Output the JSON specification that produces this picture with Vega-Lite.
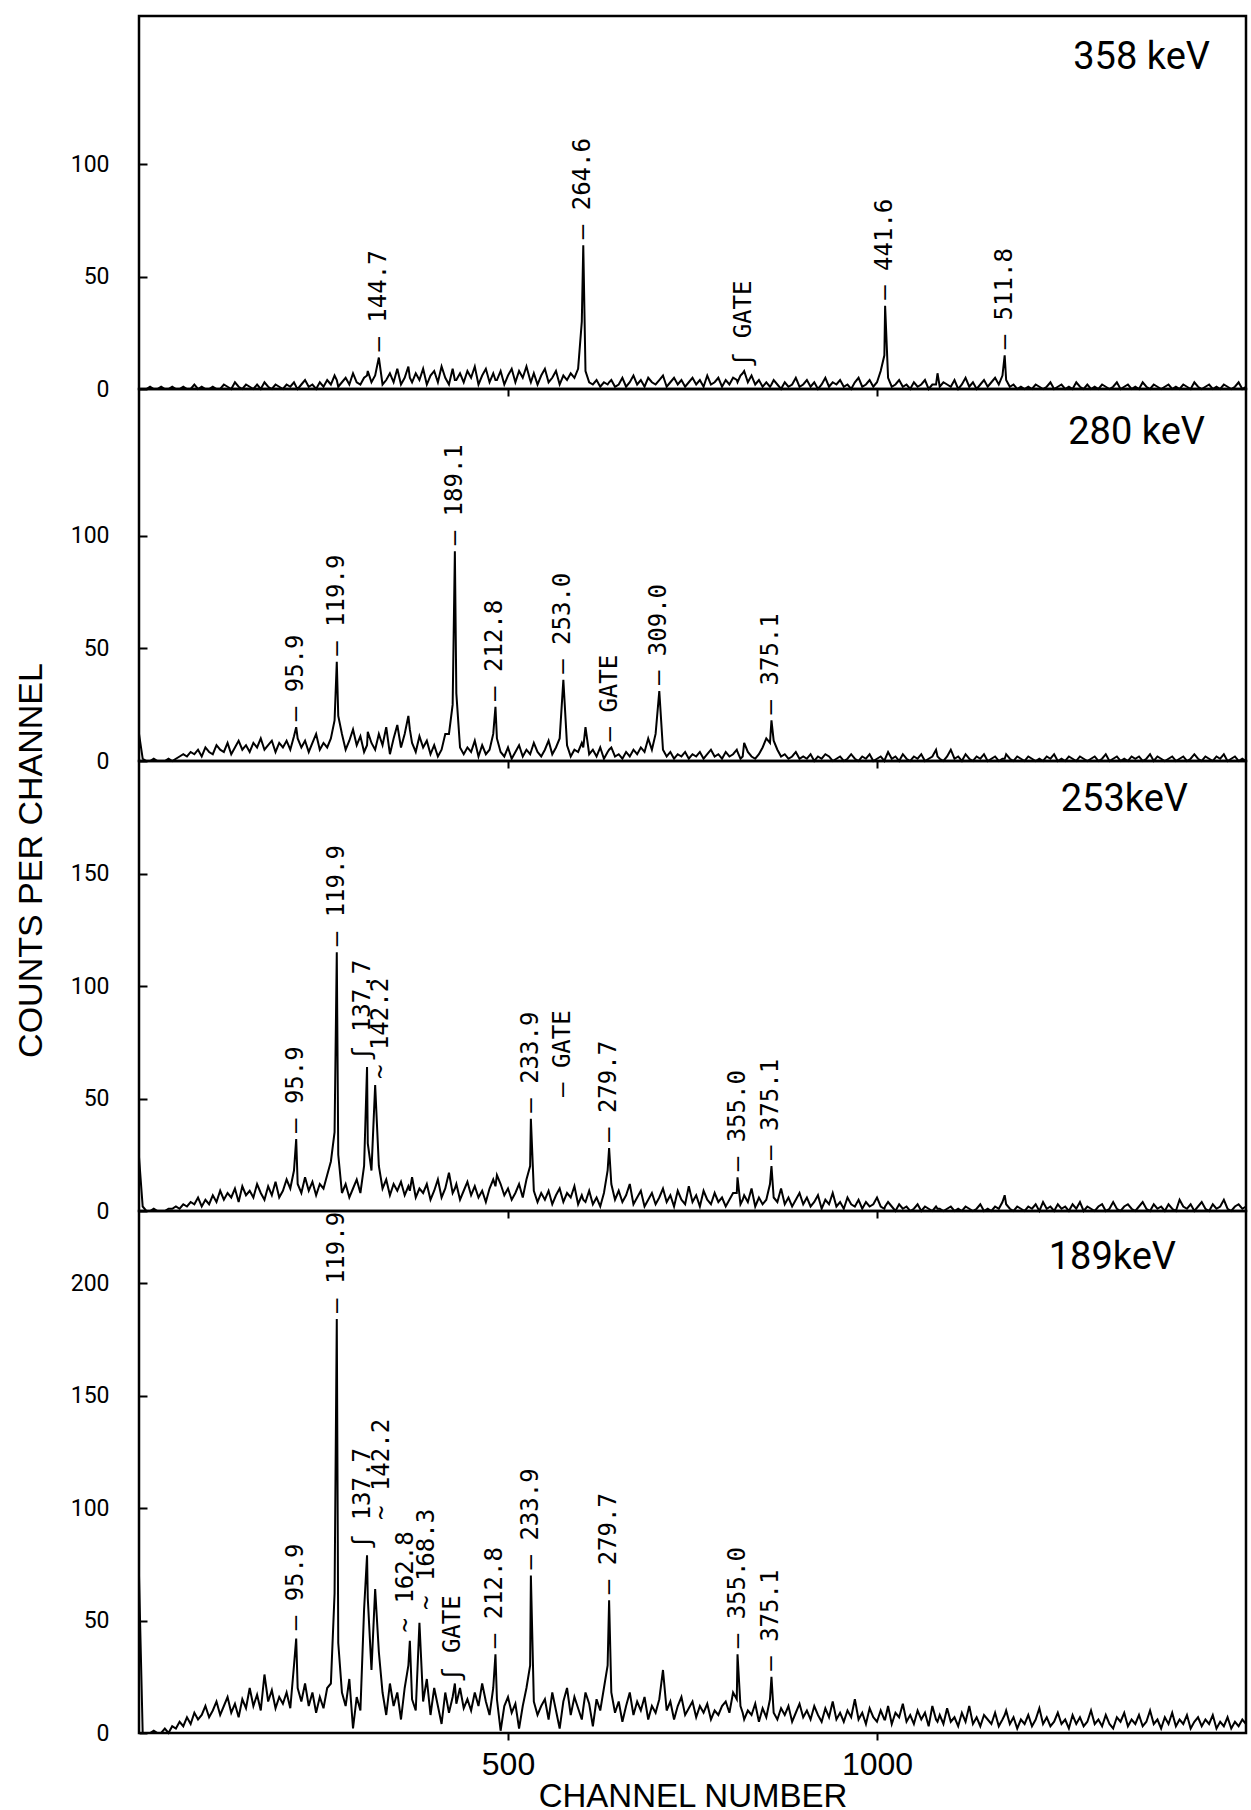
{
"$schema": "https://vega.github.io/schema/vega-lite/v6.json",
"background": "white",
"padding": {"left": 12, "top": 14, "right": 0, "bottom": 0},
"bounds": "flush",
"spacing": 0,
"config": {"view": {"stroke": "black", "strokeWidth": 2.5}, "axis": {"grid": false, "domain": false, "tickColor": "black", "tickWidth": 2, "labelColor": "black", "titleColor": "black"}},
"datasets": {
"spec": [
{"c":0,"a":0,"b":12,"d":24,"e":70},{"c":5,"a":0,"b":1,"d":2,"e":0},{"c":10,"a":0,"b":0,"d":0,"e":0},{"c":15,"a":1,"b":0,"d":0,"e":0},{"c":20,"a":0,"b":1,"d":1,"e":1},{"c":25,"a":0,"b":0,"d":0,"e":0},{"c":30,"a":1,"b":0,"d":0,"e":0},{"c":35,"a":0,"b":0,"d":0,"e":2},{"c":40,"a":0,"b":1,"d":1,"e":0},{"c":45,"a":1,"b":0,"d":1,"e":3},
{"c":50,"a":0,"b":1,"d":2,"e":2},{"c":55,"a":0,"b":2,"d":1,"e":5},{"c":60,"a":1,"b":3,"d":3,"e":3},{"c":65,"a":0,"b":2,"d":2,"e":7},{"c":70,"a":0,"b":4,"d":4,"e":4},{"c":75,"a":2,"b":3,"d":3,"e":9},{"c":80,"a":0,"b":5,"d":6,"e":6},{"c":85,"a":1,"b":2,"d":2,"e":8},{"c":90,"a":0,"b":6,"d":5,"e":12},{"c":95,"a":0,"b":4,"d":3,"e":7},
{"c":100,"a":1,"b":3,"d":7,"e":10},{"c":105,"a":0,"b":7,"d":4,"e":14},{"c":110,"a":0,"b":5,"d":9,"e":8},{"c":115,"a":2,"b":4,"d":5,"e":12},{"c":120,"a":1,"b":8,"d":8,"e":16},{"c":125,"a":0,"b":3,"d":6,"e":9},{"c":130,"a":3,"b":6,"d":10,"e":13},{"c":135,"a":1,"b":9,"d":4,"e":7},{"c":140,"a":0,"b":5,"d":11,"e":15},{"c":145,"a":2,"b":7,"d":7,"e":11},
{"c":150,"a":1,"b":4,"d":9,"e":20},{"c":155,"a":0,"b":8,"d":6,"e":12},{"c":160,"a":2,"b":6,"d":12,"e":17},{"c":165,"a":0,"b":10,"d":8,"e":10},{"c":170,"a":3,"b":5,"d":5,"e":26},{"c":175,"a":1,"b":7,"d":11,"e":14},{"c":180,"a":0,"b":9,"d":7,"e":19},{"c":185,"a":2,"b":4,"d":13,"e":11},{"c":190,"a":1,"b":8,"d":6,"e":16},{"c":195,"a":0,"b":6,"d":9,"e":13},
{"c":200,"a":2,"b":9,"d":14,"e":18},{"c":205,"a":1,"b":5,"d":10,"e":11},{"c":210,"a":3,"b":11,"d":18,"e":30},{"c":213,"a":1,"b":15,"d":32,"e":42},{"c":215,"a":0,"b":10,"d":12,"e":20},{"c":220,"a":2,"b":6,"d":8,"e":14},{"c":225,"a":4,"b":9,"d":15,"e":22},{"c":230,"a":1,"b":4,"d":9,"e":12},{"c":235,"a":2,"b":8,"d":13,"e":18},{"c":240,"a":0,"b":12,"d":7,"e":9},{"c":245,"a":3,"b":5,"d":12,"e":16},
{"c":250,"a":1,"b":8,"d":10,"e":11},{"c":255,"a":4,"b":6,"d":16,"e":20},{"c":260,"a":2,"b":10,"d":22,"e":22},{"c":265,"a":6,"b":18,"d":35,"e":62},{"c":268,"a":4,"b":44,"d":115,"e":184},{"c":270,"a":1,"b":20,"d":25,"e":40},{"c":275,"a":3,"b":12,"d":8,"e":18},{"c":280,"a":5,"b":5,"d":12,"e":12},{"c":285,"a":2,"b":9,"d":6,"e":24},{"c":290,"a":7,"b":14,"d":10,"e":2},{"c":295,"a":3,"b":7,"d":14,"e":16},
{"c":300,"a":2,"b":11,"d":8,"e":10},{"c":305,"a":5,"b":4,"d":20,"e":55},{"c":309,"a":6,"b":7,"d":64,"e":79},{"c":310,"a":8,"b":13,"d":30,"e":60},{"c":315,"a":3,"b":8,"d":18,"e":28},{"c":320,"a":6,"b":5,"d":56,"e":64},{"c":325,"a":14,"b":12,"d":20,"e":36},{"c":330,"a":2,"b":7,"d":10,"e":18},{"c":335,"a":4,"b":15,"d":14,"e":8},{"c":340,"a":7,"b":3,"d":7,"e":22},{"c":345,"a":3,"b":10,"d":12,"e":12},
{"c":350,"a":9,"b":16,"d":9,"e":18},{"c":355,"a":2,"b":6,"d":13,"e":6},{"c":360,"a":5,"b":12,"d":7,"e":20},{"c":365,"a":10,"b":20,"d":11,"e":30},{"c":367,"a":5,"b":14,"d":9,"e":41},{"c":370,"a":3,"b":8,"d":15,"e":15},{"c":375,"a":7,"b":4,"d":6,"e":10},{"c":380,"a":4,"b":11,"d":10,"e":49},{"c":385,"a":9,"b":6,"d":8,"e":14},{"c":390,"a":2,"b":9,"d":12,"e":24},{"c":395,"a":6,"b":3,"d":5,"e":8},
{"c":400,"a":8,"b":7,"d":9,"e":20},{"c":405,"a":3,"b":2,"d":14,"e":12},{"c":410,"a":10,"b":5,"d":6,"e":4},{"c":415,"a":5,"b":12,"d":10,"e":18},{"c":420,"a":2,"b":12,"d":17,"e":9},{"c":425,"a":9,"b":25,"d":8,"e":16},{"c":428,"a":4,"b":93,"d":10,"e":22},{"c":430,"a":4,"b":30,"d":12,"e":13},{"c":435,"a":7,"b":6,"d":5,"e":20},{"c":440,"a":3,"b":3,"d":9,"e":11},{"c":445,"a":8,"b":6,"d":13,"e":15},
{"c":450,"a":5,"b":4,"d":7,"e":10},{"c":455,"a":10,"b":9,"d":11,"e":18},{"c":460,"a":2,"b":2,"d":6,"e":12},{"c":465,"a":6,"b":7,"d":9,"e":22},{"c":470,"a":9,"b":3,"d":4,"e":14},{"c":475,"a":3,"b":5,"d":10,"e":8},{"c":480,"a":7,"b":12,"d":14,"e":20},{"c":483,"a":4,"b":24,"d":11,"e":35},{"c":485,"a":4,"b":10,"d":16,"e":15},{"c":490,"a":8,"b":4,"d":12,"e":1},{"c":495,"a":2,"b":2,"d":7,"e":12},
{"c":500,"a":6,"b":6,"d":10,"e":16},{"c":505,"a":9,"b":1,"d":5,"e":9},{"c":510,"a":3,"b":4,"d":8,"e":13},{"c":515,"a":8,"b":7,"d":12,"e":2},{"c":520,"a":5,"b":2,"d":6,"e":12},{"c":525,"a":10,"b":5,"d":14,"e":20},{"c":530,"a":4,"b":3,"d":20,"e":30},{"c":531,"a":3,"b":4,"d":41,"e":70},{"c":535,"a":7,"b":8,"d":9,"e":14},{"c":540,"a":2,"b":4,"d":4,"e":8},{"c":545,"a":6,"b":2,"d":8,"e":12},
{"c":550,"a":9,"b":5,"d":5,"e":15},{"c":555,"a":3,"b":9,"d":9,"e":6},{"c":560,"a":5,"b":3,"d":3,"e":18},{"c":565,"a":8,"b":6,"d":7,"e":10},{"c":570,"a":2,"b":10,"d":10,"e":2},{"c":575,"a":6,"b":36,"d":4,"e":14},{"c":580,"a":4,"b":7,"d":8,"e":20},{"c":585,"a":7,"b":2,"d":6,"e":8},{"c":590,"a":5,"b":5,"d":11,"e":16},{"c":595,"a":9,"b":4,"d":3,"e":11},
{"c":600,"a":30,"b":8,"d":7,"e":6},{"c":602,"a":64,"b":6,"d":5,"e":11},{"c":605,"a":8,"b":15,"d":4,"e":18},{"c":610,"a":3,"b":3,"d":9,"e":13},{"c":615,"a":2,"b":5,"d":3,"e":3},{"c":620,"a":4,"b":2,"d":6,"e":15},{"c":625,"a":1,"b":6,"d":2,"e":10},{"c":630,"a":3,"b":1,"d":8,"e":20},{"c":635,"a":2,"b":4,"d":18,"e":30},{"c":637,"a":3,"b":5,"d":28,"e":59},{"c":640,"a":4,"b":6,"d":12,"e":18},{"c":645,"a":1,"b":2,"d":5,"e":9},
{"c":650,"a":2,"b":3,"d":9,"e":14},{"c":655,"a":5,"b":1,"d":4,"e":5},{"c":660,"a":1,"b":4,"d":7,"e":12},{"c":665,"a":3,"b":2,"d":12,"e":18},{"c":670,"a":6,"b":5,"d":3,"e":8},{"c":675,"a":2,"b":3,"d":6,"e":14},{"c":680,"a":4,"b":6,"d":9,"e":10},{"c":685,"a":1,"b":4,"d":2,"e":16},{"c":690,"a":5,"b":10,"d":5,"e":6},{"c":695,"a":3,"b":5,"d":8,"e":12},
{"c":700,"a":2,"b":12,"d":3,"e":9},{"c":705,"a":4,"b":31,"d":6,"e":15},{"c":710,"a":6,"b":5,"d":10,"e":28},{"c":715,"a":1,"b":2,"d":4,"e":10},{"c":720,"a":3,"b":4,"d":7,"e":14},{"c":725,"a":5,"b":1,"d":2,"e":6},{"c":730,"a":2,"b":3,"d":9,"e":12},{"c":735,"a":4,"b":2,"d":5,"e":16},{"c":740,"a":1,"b":4,"d":3,"e":8},{"c":745,"a":3,"b":1,"d":11,"e":11},
{"c":750,"a":5,"b":3,"d":4,"e":14},{"c":755,"a":2,"b":2,"d":7,"e":7},{"c":760,"a":4,"b":4,"d":2,"e":12},{"c":765,"a":1,"b":1,"d":9,"e":9},{"c":770,"a":6,"b":3,"d":5,"e":13},{"c":775,"a":2,"b":5,"d":3,"e":6},{"c":780,"a":3,"b":2,"d":8,"e":10},{"c":785,"a":5,"b":3,"d":4,"e":8},{"c":790,"a":1,"b":1,"d":6,"e":12},{"c":795,"a":4,"b":4,"d":2,"e":14},
{"c":800,"a":2,"b":2,"d":5,"e":9},{"c":805,"a":5,"b":3,"d":8,"e":18},{"c":810,"a":4,"b":5,"d":8,"e":15},{"c":811,"a":3,"b":4,"d":15,"e":35},{"c":815,"a":6,"b":1,"d":3,"e":12},{"c":818,"a":7,"b":2,"d":5,"e":9},{"c":820,"a":8,"b":8,"d":7,"e":6},{"c":825,"a":3,"b":4,"d":4,"e":10},{"c":830,"a":6,"b":2,"d":10,"e":8},{"c":835,"a":2,"b":1,"d":2,"e":13},{"c":840,"a":4,"b":3,"d":6,"e":5},{"c":845,"a":1,"b":6,"d":3,"e":11},
{"c":850,"a":3,"b":10,"d":5,"e":7},{"c":855,"a":1,"b":8,"d":12,"e":15},{"c":857,"a":2,"b":18,"d":20,"e":25},{"c":860,"a":4,"b":9,"d":6,"e":9},{"c":865,"a":2,"b":5,"d":4,"e":6},{"c":870,"a":0,"b":2,"d":10,"e":11},{"c":875,"a":3,"b":3,"d":3,"e":8},{"c":880,"a":1,"b":1,"d":6,"e":12},{"c":885,"a":2,"b":2,"d":2,"e":5},{"c":890,"a":5,"b":4,"d":5,"e":9},{"c":895,"a":1,"b":1,"d":8,"e":13},
{"c":900,"a":2,"b":2,"d":3,"e":7},{"c":905,"a":4,"b":1,"d":6,"e":10},{"c":910,"a":1,"b":3,"d":2,"e":6},{"c":915,"a":3,"b":0,"d":4,"e":12},{"c":920,"a":0,"b":2,"d":7,"e":8},{"c":925,"a":2,"b":1,"d":1,"e":5},{"c":930,"a":5,"b":3,"d":5,"e":11},{"c":935,"a":1,"b":2,"d":3,"e":7},{"c":940,"a":3,"b":0,"d":8,"e":14},{"c":945,"a":2,"b":1,"d":2,"e":6},
{"c":950,"a":4,"b":2,"d":4,"e":9},{"c":955,"a":1,"b":0,"d":1,"e":5},{"c":960,"a":2,"b":1,"d":6,"e":10},{"c":965,"a":0,"b":3,"d":3,"e":7},{"c":970,"a":3,"b":1,"d":2,"e":15},{"c":975,"a":5,"b":0,"d":5,"e":6},{"c":980,"a":1,"b":2,"d":1,"e":9},{"c":985,"a":2,"b":1,"d":4,"e":4},{"c":990,"a":4,"b":3,"d":2,"e":11},{"c":995,"a":1,"b":0,"d":3,"e":7},
{"c":1000,"a":3,"b":1,"d":6,"e":5},{"c":1005,"a":8,"b":2,"d":2,"e":10},{"c":1010,"a":15,"b":0,"d":1,"e":6},{"c":1011,"a":37,"b":1,"d":2,"e":6},{"c":1015,"a":5,"b":4,"d":4,"e":12},{"c":1020,"a":1,"b":1,"d":2,"e":4},{"c":1025,"a":2,"b":2,"d":0,"e":9},{"c":1030,"a":4,"b":0,"d":3,"e":7},{"c":1035,"a":1,"b":3,"d":1,"e":13},{"c":1040,"a":2,"b":1,"d":2,"e":5},{"c":1045,"a":0,"b":0,"d":0,"e":8},
{"c":1050,"a":3,"b":2,"d":1,"e":4},{"c":1055,"a":1,"b":1,"d":3,"e":10},{"c":1060,"a":2,"b":3,"d":0,"e":6},{"c":1065,"a":4,"b":0,"d":2,"e":9},{"c":1070,"a":0,"b":1,"d":1,"e":3},{"c":1075,"a":2,"b":2,"d":0,"e":12},{"c":1080,"a":2,"b":5,"d":2,"e":6},{"c":1082,"a":7,"b":2,"d":1,"e":5},{"c":1085,"a":1,"b":1,"d":1,"e":8},{"c":1090,"a":3,"b":0,"d":0,"e":4},{"c":1095,"a":2,"b":2,"d":1,"e":11},
{"c":1100,"a":1,"b":5,"d":2,"e":5},{"c":1105,"a":4,"b":1,"d":0,"e":7},{"c":1110,"a":0,"b":2,"d":1,"e":3},{"c":1115,"a":2,"b":0,"d":0,"e":9},{"c":1120,"a":5,"b":3,"d":2,"e":5},{"c":1125,"a":1,"b":1,"d":1,"e":12},{"c":1130,"a":3,"b":0,"d":0,"e":4},{"c":1135,"a":0,"b":2,"d":1,"e":7},{"c":1140,"a":2,"b":1,"d":3,"e":3},{"c":1145,"a":4,"b":3,"d":0,"e":8},
{"c":1150,"a":1,"b":0,"d":1,"e":6},{"c":1155,"a":3,"b":1,"d":0,"e":4},{"c":1160,"a":5,"b":2,"d":2,"e":9},{"c":1165,"a":2,"b":0,"d":1,"e":3},{"c":1170,"a":6,"b":1,"d":4,"e":6},{"c":1173,"a":15,"b":1,"d":7,"e":8},{"c":1175,"a":4,"b":3,"d":3,"e":10},{"c":1180,"a":1,"b":1,"d":1,"e":4},{"c":1185,"a":2,"b":0,"d":0,"e":7},{"c":1190,"a":0,"b":2,"d":2,"e":2},{"c":1195,"a":1,"b":1,"d":1,"e":6},
{"c":1200,"a":0,"b":0,"d":0,"e":4},{"c":1205,"a":1,"b":2,"d":2,"e":8},{"c":1210,"a":0,"b":1,"d":1,"e":3},{"c":1215,"a":2,"b":0,"d":3,"e":6},{"c":1220,"a":1,"b":1,"d":0,"e":11},{"c":1225,"a":0,"b":0,"d":4,"e":4},{"c":1230,"a":1,"b":2,"d":1,"e":7},{"c":1235,"a":3,"b":1,"d":2,"e":3},{"c":1240,"a":0,"b":3,"d":0,"e":5},{"c":1245,"a":1,"b":0,"d":3,"e":9},
{"c":1250,"a":2,"b":1,"d":1,"e":4},{"c":1255,"a":0,"b":0,"d":2,"e":6},{"c":1260,"a":1,"b":2,"d":0,"e":2},{"c":1265,"a":0,"b":1,"d":3,"e":8},{"c":1270,"a":3,"b":0,"d":1,"e":4},{"c":1275,"a":1,"b":2,"d":4,"e":7},{"c":1280,"a":0,"b":1,"d":0,"e":3},{"c":1285,"a":2,"b":0,"d":2,"e":5},{"c":1290,"a":0,"b":1,"d":1,"e":10},{"c":1295,"a":1,"b":2,"d":0,"e":4},
{"c":1300,"a":0,"b":0,"d":2,"e":6},{"c":1305,"a":2,"b":1,"d":3,"e":3},{"c":1310,"a":1,"b":3,"d":0,"e":8},{"c":1315,"a":0,"b":0,"d":1,"e":4},{"c":1320,"a":1,"b":1,"d":4,"e":2},{"c":1325,"a":3,"b":2,"d":1,"e":7},{"c":1330,"a":0,"b":0,"d":0,"e":5},{"c":1335,"a":1,"b":1,"d":2,"e":9},{"c":1340,"a":2,"b":0,"d":3,"e":3},{"c":1345,"a":0,"b":2,"d":1,"e":6},
{"c":1350,"a":1,"b":1,"d":0,"e":4},{"c":1355,"a":0,"b":2,"d":2,"e":8},{"c":1360,"a":3,"b":0,"d":4,"e":3},{"c":1365,"a":1,"b":1,"d":1,"e":5},{"c":1370,"a":0,"b":3,"d":0,"e":10},{"c":1375,"a":2,"b":0,"d":3,"e":4},{"c":1380,"a":1,"b":2,"d":1,"e":6},{"c":1385,"a":0,"b":1,"d":2,"e":2},{"c":1390,"a":1,"b":0,"d":0,"e":7},{"c":1395,"a":2,"b":1,"d":3,"e":4},
{"c":1400,"a":0,"b":2,"d":1,"e":9},{"c":1405,"a":1,"b":0,"d":0,"e":3},{"c":1410,"a":0,"b":1,"d":5,"e":6},{"c":1415,"a":2,"b":2,"d":2,"e":4},{"c":1420,"a":1,"b":0,"d":1,"e":8},{"c":1425,"a":0,"b":1,"d":3,"e":2},{"c":1430,"a":3,"b":3,"d":0,"e":5},{"c":1435,"a":1,"b":1,"d":2,"e":7},{"c":1440,"a":0,"b":0,"d":4,"e":3},{"c":1445,"a":1,"b":2,"d":1,"e":6},
{"c":1450,"a":2,"b":1,"d":0,"e":4},{"c":1455,"a":0,"b":0,"d":3,"e":8},{"c":1460,"a":1,"b":2,"d":1,"e":2},{"c":1465,"a":0,"b":1,"d":2,"e":5},{"c":1470,"a":2,"b":3,"d":5,"e":3},{"c":1475,"a":1,"b":0,"d":1,"e":7},{"c":1480,"a":0,"b":1,"d":0,"e":2},{"c":1485,"a":1,"b":2,"d":2,"e":5},{"c":1490,"a":3,"b":0,"d":3,"e":3},{"c":1495,"a":0,"b":1,"d":1,"e":6},{"c":1500,"a":1,"b":0,"d":2,"e":4}
],
"lab": [
{"p":1,"c":325,"a":14,"t":"– 144.7"},{"p":1,"c":602,"a":64,"t":"– 264.6"},{"p":1,"c":820,"a":7,"t":"ʃ GATE"},{"p":1,"c":1011,"a":37,"t":"– 441.6"},{"p":1,"c":1173,"a":15,"t":"– 511.8"},
{"p":2,"c":213,"b":15,"t":"– 95.9"},{"p":2,"c":268,"b":44,"t":"– 119.9"},{"p":2,"c":428,"b":93,"t":"– 189.1"},{"p":2,"c":483,"b":24,"t":"– 212.8"},{"p":2,"c":575,"b":36,"t":"– 253.0"},{"p":2,"c":638,"b":6,"t":"– GATE"},{"p":2,"c":705,"b":31,"t":"– 309.0"},{"p":2,"c":857,"b":18,"t":"– 375.1"},
{"p":3,"c":213,"d":32,"t":"– 95.9"},{"p":3,"c":268,"d":115,"t":"– 119.9"},{"p":3,"c":304,"d":64,"t":"ʃ 137.7"},{"p":3,"c":328,"d":56,"t":"~ 142.2"},{"p":3,"c":531,"d":41,"t":"– 233.9"},{"p":3,"c":575,"d":48,"t":"– GATE"},{"p":3,"c":637,"d":28,"t":"– 279.7"},{"p":3,"c":811,"d":15,"t":"– 355.0"},{"p":3,"c":857,"d":20,"t":"– 375.1"},
{"p":4,"c":213,"e":43,"t":"– 95.9"},{"p":4,"c":268,"e":184,"t":"– 119.9"},{"p":4,"c":304,"e":79,"t":"ʃ 137.7"},{"p":4,"c":329,"e":92,"t":"~ 142.2"},{"p":4,"c":362,"e":42,"t":"~ 162.8"},{"p":4,"c":390,"e":52,"t":"~ 168.3"},{"p":4,"c":425,"e":20,"t":"ʃ GATE"},{"p":4,"c":483,"e":35,"t":"– 212.8"},{"p":4,"c":531,"e":70,"t":"– 233.9"},{"p":4,"c":637,"e":59,"t":"– 279.7"},{"p":4,"c":811,"e":35,"t":"– 355.0"},{"p":4,"c":857,"e":25,"t":"– 375.1"}
]
},
"vconcat": [
{
"width": 1107, "height": 373,
"title": {"text": "358 keV", "anchor": "end", "frame": "group", "orient": "top", "offset": -91, "dx": -36, "baseline": "alphabetic", "font": "Roboto", "fontSize": 38, "fontWeight": "normal", "color": "black"},
"encoding": {
  "x": {"field": "c", "type": "quantitative", "scale": {"domain": [0, 1500], "nice": false, "zero": false}, "axis": {"values": [500, 1000], "labels": false, "title": null, "tickSize": 7}},
  "y": {"field": "a", "type": "quantitative", "scale": {"domain": [0, 166], "nice": false}, "axis": {"values": [0, 50, 100], "title": null, "tickSize": -8, "labelPadding": 38, "labelFont": "Roboto", "labelFontSize": 23}}
},
"layer": [
{"data": {"name": "spec"}, "mark": {"type": "line", "stroke": "black", "strokeWidth": 2}},
{"data": {"name": "lab"}, "transform": [{"filter": "datum.p == 1"}], "mark": {"type": "text", "angle": 270, "align": "left", "baseline": "middle", "dx": 6, "font": "DejaVu Sans Mono", "fontSize": 24, "color": "black"}, "encoding": {"text": {"field": "t"}}}
]
},
{
"width": 1107, "height": 372,
"title": {"text": "280 keV", "anchor": "end", "frame": "group", "orient": "top", "offset": -93, "dx": -41, "baseline": "alphabetic", "font": "Roboto", "fontSize": 38, "fontWeight": "normal", "color": "black"},
"encoding": {
  "x": {"field": "c", "type": "quantitative", "scale": {"domain": [0, 1500], "nice": false, "zero": false}, "axis": {"values": [500, 1000], "labels": false, "title": null, "tickSize": 7}},
  "y": {"field": "b", "type": "quantitative", "scale": {"domain": [0, 165], "nice": false}, "axis": {"values": [0, 50, 100], "title": null, "tickSize": -8, "labelPadding": 38, "labelFont": "Roboto", "labelFontSize": 23}}
},
"layer": [
{"data": {"name": "spec"}, "mark": {"type": "line", "stroke": "black", "strokeWidth": 2}},
{"data": {"name": "lab"}, "transform": [{"filter": "datum.p == 2"}], "mark": {"type": "text", "angle": 270, "align": "left", "baseline": "middle", "dx": 6, "font": "DejaVu Sans Mono", "fontSize": 24, "color": "black"}, "encoding": {"text": {"field": "t"}}}
]
},
{
"width": 1107, "height": 450,
"title": {"text": "253keV", "anchor": "end", "frame": "group", "orient": "top", "offset": -186, "dx": -58, "baseline": "alphabetic", "font": "Roboto", "fontSize": 38, "fontWeight": "normal", "color": "black"},
"encoding": {
  "x": {"field": "c", "type": "quantitative", "scale": {"domain": [0, 1500], "nice": false, "zero": false}, "axis": {"values": [500, 1000], "labels": false, "title": null, "tickSize": 7}},
  "y": {"field": "d", "type": "quantitative", "scale": {"domain": [0, 200], "nice": false}, "axis": {"values": [0, 50, 100, 150], "title": "COUNTS PER CHANNEL", "titleX": -108, "titleY": 99, "titleAngle": -90, "titleBaseline": "middle", "titleAlign": "center", "titleFont": "Liberation Sans", "titleFontSize": 34, "titleFontWeight": "normal", "tickSize": -8, "labelPadding": 38, "labelFont": "Roboto", "labelFontSize": 23}}
},
"layer": [
{"data": {"name": "spec"}, "mark": {"type": "line", "stroke": "black", "strokeWidth": 2}},
{"data": {"name": "lab"}, "transform": [{"filter": "datum.p == 3"}], "mark": {"type": "text", "angle": 270, "align": "left", "baseline": "middle", "dx": 6, "font": "DejaVu Sans Mono", "fontSize": 24, "color": "black"}, "encoding": {"text": {"field": "t"}}}
]
},
{
"width": 1107, "height": 522,
"title": {"text": "189keV", "anchor": "end", "frame": "group", "orient": "top", "offset": -96, "dx": -70, "baseline": "alphabetic", "font": "Roboto", "fontSize": 38, "fontWeight": "normal", "color": "black"},
"encoding": {
  "x": {"field": "c", "type": "quantitative", "scale": {"domain": [0, 1500], "nice": false, "zero": false}, "axis": {"values": [500, 1000], "format": "d", "title": "CHANNEL NUMBER", "tickSize": 7, "labelPadding": 9, "labelFont": "Liberation Sans", "labelFontSize": 32, "labelFlush": false, "titleFont": "Liberation Sans", "titleFontSize": 33, "titleFontWeight": "normal", "titlePadding": 0}},
  "y": {"field": "e", "type": "quantitative", "scale": {"domain": [0, 232], "nice": false}, "axis": {"values": [0, 50, 100, 150, 200], "title": null, "tickSize": -8, "labelPadding": 38, "labelFont": "Roboto", "labelFontSize": 23}}
},
"layer": [
{"data": {"name": "spec"}, "mark": {"type": "line", "stroke": "black", "strokeWidth": 2}},
{"data": {"name": "lab"}, "transform": [{"filter": "datum.p == 4"}], "mark": {"type": "text", "angle": 270, "align": "left", "baseline": "middle", "dx": 6, "font": "DejaVu Sans Mono", "fontSize": 24, "color": "black"}, "encoding": {"text": {"field": "t"}}}
]
}
]
}
